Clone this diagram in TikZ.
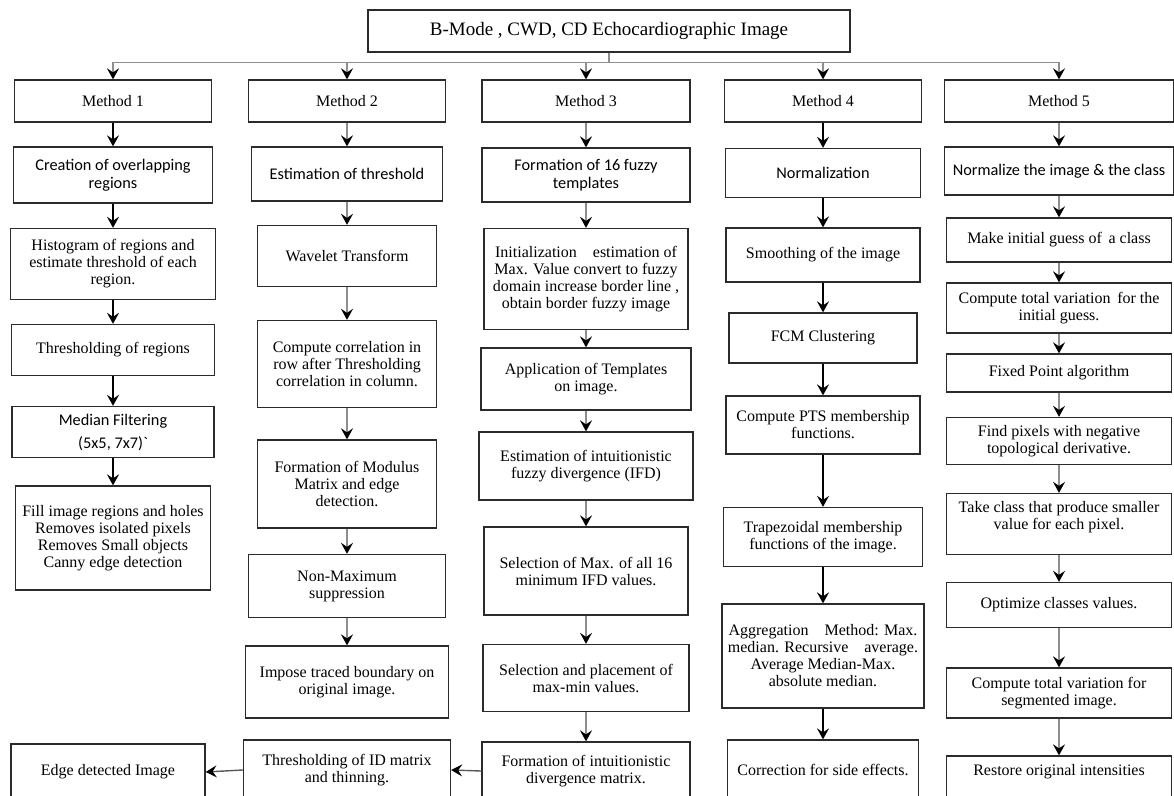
\documentclass[tikz,border=0pt]{standalone}
\usepackage{fontspec}
\setmainfont{Liberation Serif}
\newfontfamily\calfont{Carlito}
\usepackage{tikz}
\usetikzlibrary{arrows.meta,positioning}
\definecolor{cLine}{HTML}{2B2B2B}
\definecolor{cGrey}{HTML}{8E8E8E}
\tikzset{
  box/.style  = {rectangle, draw=cLine, line width=1.3pt, align=center,
                 inner sep=2pt, font=\fontsize{16}{17}\selectfont},
  cal/.style  = {font=\calfont\fontsize{16.3}{18}\selectfont},
  sz/.style n args = {2}{minimum width=#1pt, minimum height=#2pt},
  arr/.style  = {-{Stealth[length=11pt,width=12pt,inset=4pt,color=black]},
                 draw=black, line width=1.4pt},
  arrg/.style = {arr, draw=cGrey},
}
\begin{document}
\begin{tikzpicture}[x=1pt, y=-1pt]
  \clip (0,0) rectangle (1174,795);
  \fill[white] (0,0) rectangle (1174,795);

  \node[box, sz={482}{42}, font=\fontsize{19}{20}\selectfont] (src) at (609,31) {B-Mode , CWD, CD Echocardiographic Image};

  \node[box, sz={197}{42}] (m1) at (113,101) {Method 1};
  \node[box, sz={197}{42}] (m2) at (347,101) {Method 2};
  \node[box, sz={208}{42}] (m3) at (586,101) {Method 3};
  \node[box, sz={197}{42}] (m4) at (823,101) {Method 4};
  \node[box, sz={229}{42}] (m5) at (1059,101) {Method 5};

  % method 1
  \node[box, cal, sz={199}{56}] (c1a) at (113,175) {Creation of overlapping\\regions};
  \node[box, sz={205}{71}] (c1b) at (113,264) {Histogram of regions and\\estimate threshold of each\\region.};
  \node[box, sz={203}{51}] (c1c) at (113,350) {Thresholding of regions};
  \node[box, cal, sz={202}{51}] (c1d) at (113,432) {Median Filtering\\[5pt](5x5, 7x7)`};
  \node[box, sz={195}{104}] (c1e) at (113,538) {Fill image regions and holes\\Removes isolated pixels\\Removes Small objects\\Canny edge detection};

  % method 2
  \node[box, cal, sz={191}{54}] (c2a) at (347,174) {Estimation of threshold};
  \node[box, sz={179}{61}] (c2b) at (347,256) {Wavelet Transform};
  \node[box, sz={179}{87}] (c2c) at (347,364) {Compute correlation in\\row after Thresholding\\correlation in column.};
  \node[box, sz={179}{88}] (c2d) at (347,484) {Formation of Modulus\\Matrix and edge\\detection.};
  \node[box, sz={197}{63}] (c2e) at (347,586) {Non-Maximum\\suppression};
  \node[box, sz={203}{72}] (c2f) at (347,682) {Impose traced boundary on\\original image.};
  \node[box, sz={207}{60}] (c2g) at (347,770) {Thresholding of ID matrix\\and thinning.};
  \node[box, sz={194}{56}] (edge) at (108,772) {Edge detected Image};

  % method 3
  \node[box, cal, sz={208}{54}] (c3a) at (586,175) {Formation of 16 fuzzy\\templates};
  \node[box, sz={204}{101}] (c3b) at (586,279) {Initialization\quad estimation of\\Max. Value convert to fuzzy\\domain increase border line ,\\obtain border fuzzy image};
  \node[box, sz={210}{62}] (c3c) at (586,379) {Application of Templates\\on image.};
  \node[box, sz={214}{68}] (c3d) at (586,466) {Estimation of intuitionistic\\fuzzy divergence (IFD)};
  \node[box, sz={204}{88}] (c3e) at (586,571) {Selection of Max. of all 16\\minimum IFD values.};
  \node[box, sz={206}{67}] (c3f) at (586,678) {Selection and placement of\\max-min values.};
  \node[box, sz={208}{58}] (c3g) at (586,771) {Formation of intuitionistic\\divergence matrix.};

  % method 4
  \node[box, cal, sz={195}{49}] (c4a) at (823,173) {Normalization};
  \node[box, sz={194}{54}] (c4b) at (823,255) {Smoothing of the image};
  \node[box, sz={188}{50}] (c4c) at (823,338) {FCM Clustering};
  \node[box, sz={194}{58}] (c4d) at (823,425) {Compute PTS membership\\functions.};
  \node[box, sz={199}{59}] (c4e) at (823,537) {Trapezoidal membership\\functions of the image.};
  \node[box, sz={202}{104}] (c4f) at (823,656) {Aggregation\quad Method: Max.\\median. Recursive\quad average.\\Average Median-Max.\\absolute median.};
  \node[box, sz={191}{60}] (c4g) at (823,770) {Correction for side effects.};

  % method 5
  \node[box, cal, sz={229}{48}] (c5a) at (1059,171) {Normalize the image \& the class};
  \node[box, sz={225}{44}] (c5b) at (1059,240) {Make initial guess of\, a class};
  \node[box, sz={225}{50}] (c5c) at (1059,308) {Compute total variation\, for the\\initial guess.};
  \node[box, sz={225}{38}] (c5d) at (1059,373) {Fixed Point algorithm};
  \node[box, sz={225}{47}] (c5e) at (1059,441) {Find pixels with negative\\topological derivative.};
  \node[box, sz={225}{61}] (c5f) at (1059,524) {Take class that produce smaller\\value for each pixel.\\};
  \node[box, sz={225}{45}] (c5g) at (1059,605) {Optimize classes values.};
  \node[box, sz={225}{50}] (c5h) at (1059,693) {Compute total variation for\\segmented image.};
  \node[box, sz={225}{44}] (c5i) at (1059,778) {Restore original intensities\\};

  \foreach \m in {m1,m2,m3,m4,m5}
    \draw[arrg] (src.south) -- ++(0,10) -| (\m.north);

  \foreach \a/\b in {m1/c1a, c1a/c1b, c1b/c1c, c1c/c1d, c1d/c1e,
                     m4/c4a, c4a/c4b, c4b/c4c, c4c/c4d, c4d/c4e, c4e/c4f, c4f/c4g}
    \draw[arr] (\a) -- (\b);
  \foreach \a/\b in {m2/c2a, c2a/c2b, c2b/c2c, c2c/c2d, c2d/c2e, c2e/c2f,
                     m3/c3a, c3a/c3b, c3b/c3c, c3c/c3d, c3d/c3e, c3e/c3f, c3f/c3g,
                     m5/c5a, c5a/c5b, c5b/c5c, c5c/c5d, c5d/c5e, c5e/c5f, c5f/c5g,
                     c5g/c5h, c5h/c5i}
    \draw[arrg] (\a) -- (\b);

  \draw[arrg, draw=black!65] (c3g.west) -- (c2g.east);
  \draw[arrg, draw=black!65] (c2g.west) -- (edge.east);
\end{tikzpicture}
\end{document}
